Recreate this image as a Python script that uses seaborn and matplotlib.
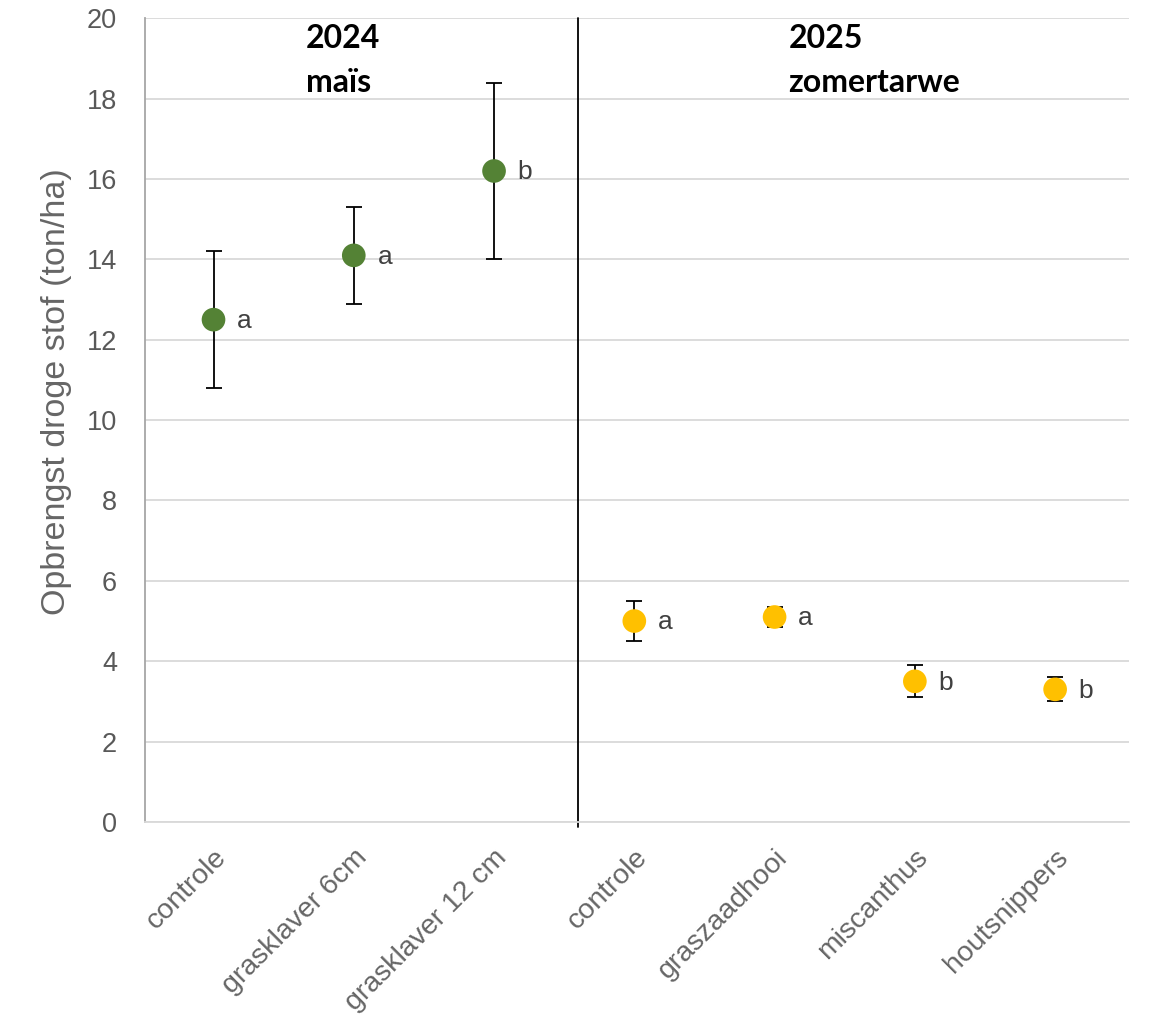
import numpy as np
import pandas as pd
import seaborn as sns
import matplotlib.pyplot as plt

# Data
behandelingen = ["controle", "grasklaver 6cm", "grasklaver 12 cm",
                 "controle", "graszaadhooi", "miscanthus", "houtsnippers"]
jaar = ["2024", "2024", "2024", "2025", "2025", "2025", "2025"]
opbrengst = [12.5, 14.1, 16.2, 5.0, 5.1, 3.5, 3.3]
fout = [1.7, 1.2, 2.2, 0.5, 0.25, 0.4, 0.3]
letters = ["a", "a", "b", "a", "a", "b", "b"]

kleuren = {"2024": "#548235", "2025": "#FFC000"}

df = pd.DataFrame({
    "pos": np.arange(len(behandelingen)),
    "behandeling": behandelingen,
    "jaar": jaar,
    "opbrengst": opbrengst,
    "fout": fout,
    "letter": letters,
})

sns.set_style("white")
plt.rcParams["font.family"] = ["Liberation Sans", "DejaVu Sans"]

fig = plt.figure(figsize=(11.49, 10.16), dpi=100)
ax = fig.add_axes([0.126, 0.191, 0.857, 0.791])

# Error bars behind the markers
ax.errorbar(df["pos"], df["opbrengst"], yerr=df["fout"], fmt="none",
            ecolor="black", elinewidth=1.3, capsize=6, capthick=1.3, zorder=2)

sns.scatterplot(data=df, x="pos", y="opbrengst", hue="jaar", palette=kleuren,
                s=290, edgecolor="none", legend=False, ax=ax, zorder=3)

# Significance letters
for _, r in df.iterrows():
    ax.annotate(r["letter"], (r["pos"], r["opbrengst"]), xytext=(17, -1),
                textcoords="offset points", ha="left", va="center",
                fontsize=19, color="#404040")

# Separator between the two years
ax.axvline(2.6, ymin=-0.006, ymax=1, color="black", lw=1.3, clip_on=False, zorder=1)

# Year / crop headers
kop = {"family": ["Lato", "DejaVu Sans"], "fontsize": 23, "fontweight": "bold", "color": "black"}
ax.text(0.66, 19.5, "2024", ha="left", va="center", **kop)
ax.text(0.66, 18.4, "maïs", ha="left", va="center", **kop)
ax.text(4.1, 19.5, "2025", ha="left", va="center", **kop)
ax.text(4.1, 18.4, "zomertarwe", ha="left", va="center", **kop)

ax.set_xlim(-0.49, 6.53)
ax.set_ylim(0, 20)
ax.set_yticks(np.arange(0, 21, 2))
ax.set_xticks(df["pos"])
ax.set_xticklabels(behandelingen, rotation=45, ha="right", rotation_mode="anchor")
ax.tick_params(axis="y", length=0, labelsize=19.5, labelcolor="#595959", pad=20)
ax.tick_params(axis="x", length=0, labelsize=20.5, labelcolor="#666666", pad=16)

ax.grid(axis="y", color="#D9D9D9", lw=1.3)
ax.set_axisbelow(True)
for s in ["top", "right"]:
    ax.spines[s].set_visible(False)
ax.spines["left"].set_color("#A6A6A6")
ax.spines["bottom"].set_color("#D9D9D9")
ax.spines["left"].set_linewidth(1.3)
ax.spines["bottom"].set_linewidth(1.3)

ax.set_xlabel("")
ax.set_ylabel("Opbrengst droge stof (ton/ha)", fontsize=24.5, color="#666666")
ax.yaxis.set_label_coords(-0.074, 0.536)

fig.savefig("out.png", dpi=100)
